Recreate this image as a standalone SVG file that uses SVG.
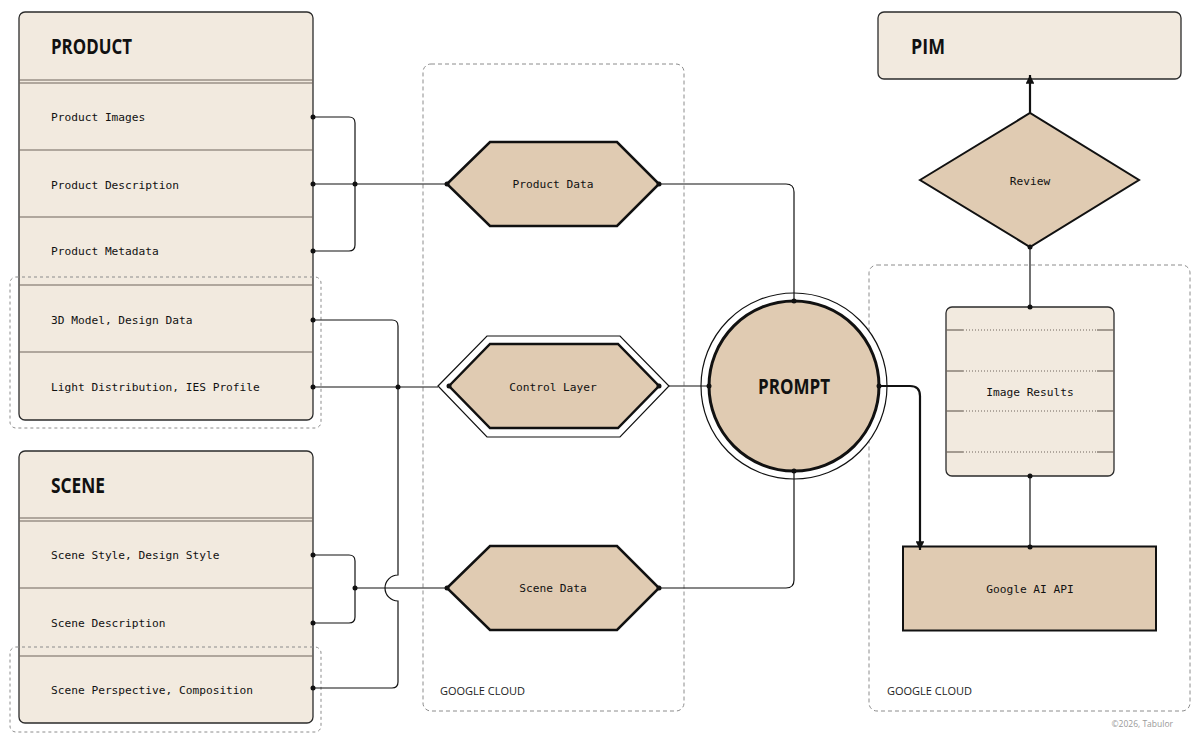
<svg xmlns="http://www.w3.org/2000/svg" width="1200" height="740" viewBox="0 0 1200 740">
<defs>
<style>
.box{fill:#f2eadf;stroke:#2b2b2b;stroke-width:1.3}
.sep{stroke:#6e655c;stroke-width:1.2;fill:none}
.hex{fill:#e0cbb2;stroke:#111;stroke-width:2.5}
.hdr{font-family:"Liberation Sans Narrow","Open Sans","DejaVu Sans",sans-serif;font-weight:bold;font-size:21px;fill:#111}
.mono{font-family:"DejaVu Sans Mono","Liberation Mono",monospace;font-size:11.2px;fill:#111}
.cloud{fill:none;stroke:#8c8c8c;stroke-width:1;stroke-dasharray:4 3}
.grp{fill:none;stroke:#8c8c8c;stroke-width:1;stroke-dasharray:3 3}
.lbl{font-family:"Open Sans","Liberation Sans",sans-serif;font-size:11px;fill:#222}
.ln{fill:none;stroke:#111;stroke-width:1.2}
.thick{fill:none;stroke:#111;stroke-width:2.2}
.dot{fill:#111}
.dotted{stroke:#6e655c;stroke-width:1;stroke-dasharray:1 2;fill:none}
</style>
<marker id="arr" viewBox="0 0 10 10" refX="10" refY="5" markerWidth="4" markerHeight="4" orient="auto" markerUnits="strokeWidth">
<path d="M0,0 L10,5 L0,10 z" fill="#111"/>
</marker>
</defs>
<rect width="1200" height="740" fill="#ffffff"/>

<!-- cloud containers -->
<g id="cloud-left">
<rect class="cloud" x="423" y="64" width="261" height="647" rx="8"/>
<text class="lbl" x="440" y="695">GOOGLE CLOUD</text>
</g>
<g id="cloud-right">
<rect class="cloud" x="869" y="265" width="321" height="446" rx="8"/>
<text class="lbl" x="887" y="695">GOOGLE CLOUD</text>
</g>

<!-- PRODUCT -->
<g id="product">
<rect class="box" x="19" y="12" width="294" height="408" rx="6"/>
<text class="hdr" x="51" y="54" textLength="81" lengthAdjust="spacingAndGlyphs">PRODUCT</text>
<line class="sep" x1="19" y1="80" x2="313" y2="80"/>
<line class="sep" x1="19" y1="83" x2="313" y2="83"/>
<line class="sep" x1="19" y1="150" x2="313" y2="150"/>
<line class="sep" x1="19" y1="217" x2="313" y2="217"/>
<line class="sep" x1="19" y1="285" x2="313" y2="285"/>
<line class="sep" x1="19" y1="352" x2="313" y2="352"/>
<text class="mono" x="51" y="121">Product Images</text>
<text class="mono" x="51" y="189">Product Description</text>
<text class="mono" x="51" y="255">Product Metadata</text>
<text class="mono" x="51" y="324">3D Model, Design Data</text>
<text class="mono" x="51" y="391">Light Distribution, IES Profile</text>
</g>
<g id="product-group">
<rect class="grp" x="10" y="277" width="311" height="151" rx="6"/>
</g>

<!-- SCENE -->
<g id="scene">
<rect class="box" x="19" y="451" width="294" height="272" rx="6"/>
<text class="hdr" x="51" y="493" textLength="54" lengthAdjust="spacingAndGlyphs">SCENE</text>
<line class="sep" x1="19" y1="518" x2="313" y2="518"/>
<line class="sep" x1="19" y1="521" x2="313" y2="521"/>
<line class="sep" x1="19" y1="588" x2="313" y2="588"/>
<line class="sep" x1="19" y1="656" x2="313" y2="656"/>
<text class="mono" x="51" y="559">Scene Style, Design Style</text>
<text class="mono" x="51" y="627">Scene Description</text>
<text class="mono" x="51" y="694">Scene Perspective, Composition</text>
</g>
<g id="scene-group">
<rect class="grp" x="10" y="647" width="311" height="85" rx="6"/>
</g>

<!-- Product Data -->
<g id="product-data">
<polygon class="hex" points="447,184 490,142 617,142 659,184 617,226 490,226"/>
<text class="mono" x="553" y="188" text-anchor="middle">Product Data</text>
</g>

<!-- Control Layer -->
<g id="control-layer">
<polygon points="438,386 487,336 620,336 669,386 620,437 487,437" fill="#ffffff" stroke="#111" stroke-width="1.2"/>
<polygon class="hex" points="449,386 490,344 618,344 659,386 618,428 490,428"/>
<text class="mono" x="553" y="391" text-anchor="middle">Control Layer</text>
</g>

<!-- Scene Data -->
<g id="scene-data">
<polygon class="hex" points="447,588 490,546 617,546 659,588 617,630 490,630"/>
<text class="mono" x="553" y="592" text-anchor="middle">Scene Data</text>
</g>

<!-- PROMPT -->
<g id="prompt">
<circle cx="794" cy="386" r="93" fill="#ffffff" stroke="#111" stroke-width="1.2"/>
<circle cx="794" cy="386" r="85" fill="#e0cbb2" stroke="#111" stroke-width="3"/>
<text class="hdr" x="794" y="394" text-anchor="middle" textLength="72" lengthAdjust="spacingAndGlyphs">PROMPT</text>
</g>

<!-- PIM -->
<g id="pim">
<rect class="box" x="878" y="12" width="303" height="67" rx="6"/>
<text class="hdr" x="911" y="54" textLength="34" lengthAdjust="spacingAndGlyphs">PIM</text>
</g>

<!-- Review -->
<g id="review">
<polygon points="920,180 1030,113 1139,180 1030,247" fill="#e0cbb2" stroke="#111" stroke-width="2"/>
<text class="mono" x="1030" y="185" text-anchor="middle">Review</text>
</g>

<!-- Image Results -->
<g id="image-results">
<rect class="box" x="946" y="307" width="168" height="169" rx="6"/>
<g>
<line class="sep" x1="946" y1="330" x2="963" y2="330"/><line class="dotted" x1="963" y1="330" x2="1097" y2="330"/><line class="sep" x1="1097" y1="330" x2="1114" y2="330"/>
<line class="sep" x1="946" y1="371" x2="963" y2="371"/><line class="dotted" x1="963" y1="371" x2="1097" y2="371"/><line class="sep" x1="1097" y1="371" x2="1114" y2="371"/>
<line class="sep" x1="946" y1="411" x2="963" y2="411"/><line class="dotted" x1="963" y1="411" x2="1097" y2="411"/><line class="sep" x1="1097" y1="411" x2="1114" y2="411"/>
<line class="sep" x1="946" y1="452" x2="963" y2="452"/><line class="dotted" x1="963" y1="452" x2="1097" y2="452"/><line class="sep" x1="1097" y1="452" x2="1114" y2="452"/>
</g>
<text class="mono" x="1030" y="396" text-anchor="middle">Image Results</text>
</g>

<!-- Google AI API -->
<g id="google-ai-api">
<rect x="903" y="546.5" width="253" height="84" fill="#e0cbb2" stroke="#111" stroke-width="2"/>
<text class="mono" x="1030" y="593" text-anchor="middle">Google AI API</text>
</g>

<!-- connectors -->
<g id="connectors">
<!-- product bracket -->
<path class="ln" d="M313,117 H349 Q355,117 355,123 V245 Q355,251 349,251 H313"/>
<path class="ln" d="M313,184 H447"/>
<!-- 3D model / light / perspective -->
<path class="ln" d="M313,320 H392 Q398,320 398,326 V575 A13,13 0 0 0 398,601 V682 Q398,688 392,688 H313"/>
<path class="ln" d="M313,387 H438"/>
<!-- scene bracket -->
<path class="ln" d="M313,555 H349 Q355,555 355,561 V617 Q355,623 349,623 H313"/>
<path class="ln" d="M355,588 H447"/>
<!-- to prompt -->
<path class="ln" d="M659,184 H786 Q794,184 794,192 V301"/>
<path class="ln" d="M659,588 H786 Q794,588 794,580 V471"/>
<path class="ln" d="M669,386 H709"/>
<!-- prompt to Google AI -->
<path class="thick" d="M879,386 H910 Q920,386 920,396 V550" marker-end="url(#arr)"/>
<!-- Google AI to Image Results -->
<path class="ln" d="M1030,547 V476"/>
<!-- Image Results to Review -->
<path class="ln" d="M1030,307 V247"/>
<!-- Review to PIM -->
<path class="thick" d="M1030,113 V75" marker-end="url(#arr)"/>
<!-- dots -->
<g class="dot">
<circle cx="313" cy="117" r="2.5"/><circle cx="313" cy="184" r="2.5"/><circle cx="313" cy="251" r="2.5"/>
<circle cx="355" cy="184" r="2.5"/><circle cx="447" cy="184" r="2.5"/>
<circle cx="313" cy="320" r="2.5"/><circle cx="313" cy="387" r="2.5"/><circle cx="398" cy="387" r="2.5"/>
<circle cx="449" cy="386" r="2.5"/><circle cx="659" cy="386" r="2.5"/>
<circle cx="313" cy="555" r="2.5"/><circle cx="313" cy="623" r="2.5"/><circle cx="313" cy="688" r="2.5"/>
<circle cx="355" cy="588" r="2.5"/><circle cx="447" cy="588" r="2.5"/>
<circle cx="659" cy="184" r="2.5"/><circle cx="659" cy="588" r="2.5"/>
<circle cx="794" cy="301" r="2.5"/><circle cx="794" cy="471" r="2.5"/><circle cx="709" cy="386" r="2.5"/><circle cx="879" cy="386" r="2.5"/>
<circle cx="1030" cy="247" r="2.5"/><circle cx="1030" cy="307" r="2.5"/>
<circle cx="1030" cy="476" r="2.5"/><circle cx="1030" cy="547" r="2.5"/>
</g>
</g>

<text x="1173" y="727" text-anchor="end" font-family="Open Sans, Liberation Sans, sans-serif" font-size="8.5" fill="#999">©2026, Tabulor</text>
</svg>
